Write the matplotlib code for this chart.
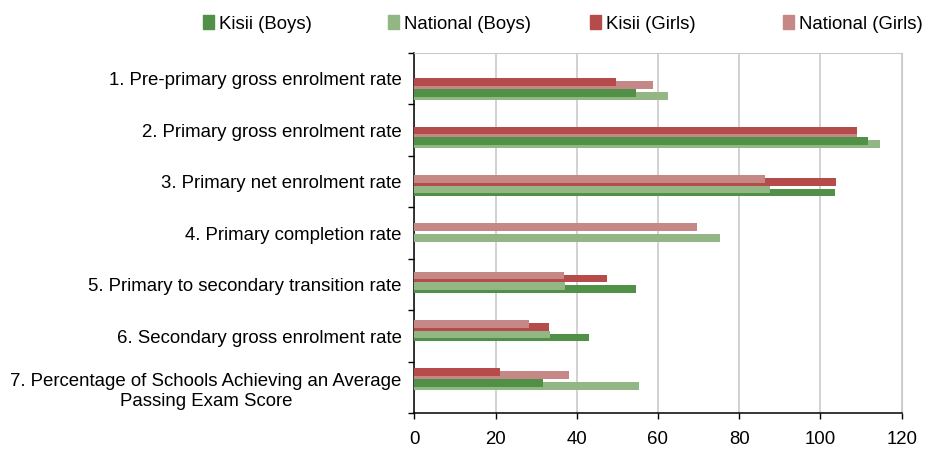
import matplotlib
matplotlib.use('Agg')
import matplotlib.pyplot as plt
import matplotlib.patches as mpatches
import numpy as np

plt.rcParams['font.family'] = ['Liberation Sans', 'DejaVu Sans']

categories = ['1. Pre-primary gross enrolment rate',
              '2. Primary gross enrolment rate',
              '3. Primary net enrolment rate',
              '4. Primary completion rate',
              '5. Primary to secondary transition rate',
              '6. Secondary gross enrolment rate',
              '7. Percentage of Schools Achieving an Average\nPassing Exam Score']

kisii_boys = [54.6, 111.7, 103.5, np.nan, 54.6, 43.0, 31.7]
national_boys = [62.4, 114.7, 87.6, 75.3, 37.1, 33.4, 55.3]
kisii_girls = [49.7, 109.0, 103.8, np.nan, 47.4, 33.2, 21.1]
national_girls = [58.8, 109.0, 86.4, 69.6, 36.9, 28.3, 38.1]

series_names = ['Kisii (Boys)', 'National (Boys)', 'Kisii (Girls)', 'National (Girls)']
colors = {'Kisii (Boys)': '#509047', 'National (Boys)': '#92B785',
          'Kisii (Girls)': '#B54B4B', 'National (Girls)': '#C68787'}

fs = 13.4

fig = plt.figure(figsize=(9.39, 4.5), dpi=100)
ax = fig.add_axes([414.3/939, 1-413.3/450, (901.7-414.3)/939, (413.3-53)/450])

n = len(categories)
h = 0.15
group_top = 0.4916 + 0.939*np.arange(n)
# girls pair on top, boys pair below; in each pair the shorter bar sits higher and in front
pairs = [(kisii_girls, national_girls, 'Kisii (Girls)', 'National (Girls)', 0.0),
         (kisii_boys, national_boys, 'Kisii (Boys)', 'National (Boys)', 0.208)]
for k_vals, n_vals, k_name, n_name, off in pairs:
    for i in range(n):
        kv, nv = k_vals[i], n_vals[i]
        if np.isnan(kv) or nv < kv:
            order = [(nv, n_name), (kv, k_name)]
        else:
            order = [(kv, k_name), (nv, n_name)]
        for j, (v, name) in enumerate(order):
            if np.isnan(v):
                continue
            ax.barh(group_top[i] + off + 0.058*j, v, height=h, align='edge',
                    color=colors[name], zorder=4 - j, linewidth=0)

ax.set_xlim(0, 120)
ax.set_ylim(n, 0)
ax.set_xticks(range(0, 121, 20))
ax.set_yticks(range(n + 1))
ax.set_yticklabels([])
ax.set_yticks(np.arange(n) + 0.5, categories, minor=True)
for t in ax.get_yticklabels(minor=True):
    t.set_multialignment('center')
    t.set_linespacing(1.3)
ax.tick_params(axis='y', which='major', length=4.5, width=1, direction='out')
ax.tick_params(axis='y', which='minor', length=0, pad=9, labelsize=fs)
ax.tick_params(axis='x', length=4.5, width=1, direction='out', pad=8, labelsize=fs)
ax.grid(axis='x', color='#CACACA', linewidth=1.2, zorder=0)
ax.set_axisbelow(True)
for s in ['top', 'right']:
    ax.spines[s].set_color('#CACACA')
for s in ['left', 'bottom']:
    ax.spines[s].set_linewidth(1.1)

# one legend entry per series, placed like the original
legend_x = [203, 388, 590, 783]
for name, lx in zip(series_names, legend_x):
    fig.legend(handles=[mpatches.Patch(color=colors[name], label=name)],
               loc='center left', bbox_to_anchor=(lx/939, 1-24/450),
               frameon=False, fontsize=fs, handlelength=0.6, handleheight=0.8,
               handletextpad=0.25, borderpad=0, borderaxespad=0)

fig.savefig('out.png', dpi=100)
